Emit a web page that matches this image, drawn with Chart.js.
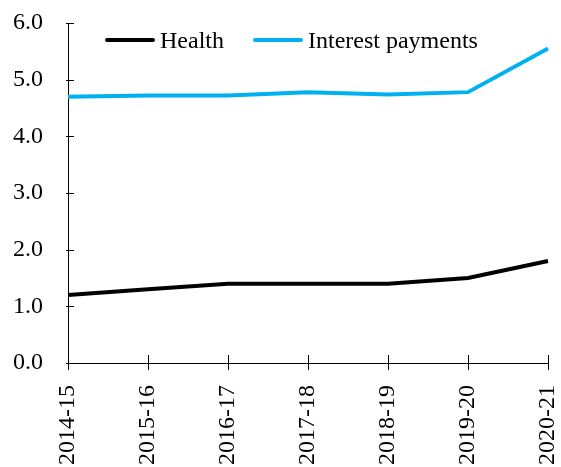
<!DOCTYPE html>
<html lang="en">
<head>
    <meta charset="UTF-8">
    <title>Health vs Interest payments</title>
    <script src="https://cdn.jsdelivr.net/npm/chart.js"></script>
    <style>
        html, body { margin: 0; padding: 0; background: #fff; }
        .wrap { width: 561px; height: 467px; position: relative; }
    </style>
</head>
<body>
    <div class="wrap"><canvas id="lineChart"></canvas></div>
    <script>
        // Dados do gráfico
        const years = ['2014-15', '2015-16', '2016-17', '2017-18', '2018-19', '2019-20', '2020-21'];
        const health = [1.2, 1.3, 1.4, 1.4, 1.4, 1.5, 1.8];
        const interest = [4.7, 4.72, 4.72, 4.78, 4.74, 4.78, 5.55];
        const yTicks = [0, 1, 2, 3, 4, 5, 6];

        const font = { family: '"Liberation Serif", "Times New Roman", serif', size: 24 };

        // marcas de escala que cruzam os eixos
        const crossTicks = {
            id: 'crossTicks',
            beforeDatasetsDraw(chart) {
                const c = chart.ctx;
                const { x, y } = chart.scales;
                const left = chart.chartArea.left, bottom = chart.chartArea.bottom;
                c.save();
                c.strokeStyle = '#000';
                c.lineWidth = 1;
                c.beginPath();
                y.ticks.forEach((t, i) => {
                    const py = Math.round(y.getPixelForTick(i)) + 0.5;
                    c.moveTo(left - 2, py);
                    c.lineTo(left + 6, py);
                });
                x.ticks.forEach((t, i) => {
                    const px = Math.round(x.getPixelForTick(i)) + 0.5;
                    c.moveTo(px, bottom - 8);
                    c.lineTo(px, bottom + 7);
                });
                c.stroke();
                c.restore();
            }
        };

        // legenda desenhada dentro da área do gráfico, em linha
        const insideLegend = {
            id: 'insideLegend',
            afterDraw(chart) {
                const c = chart.ctx;
                const area = chart.chartArea;
                c.save();
                c.font = font.size + 'px ' + font.family;
                c.textBaseline = 'middle';
                const lineW = 50, gap = 5, itemGap = 29;
                let x = area.left + 37;
                const y = area.top + 17;
                chart.data.datasets.forEach(d => {
                    c.strokeStyle = d.borderColor;
                    c.lineWidth = 4;
                    c.lineCap = 'round';
                    c.beginPath();
                    c.moveTo(x + 2, y);
                    c.lineTo(x + lineW - 2, y);
                    c.stroke();
                    c.fillStyle = '#000';
                    c.fillText(d.label, x + lineW + gap, y + 2);
                    x += lineW + gap + c.measureText(d.label).width + itemGap;
                });
                c.restore();
            }
        };

        const ctx = document.getElementById('lineChart').getContext('2d');
        new Chart(ctx, {
            type: 'line',
            data: {
                labels: years,
                datasets: [{
                    label: 'Health',
                    data: health,
                    borderColor: '#000000',
                    backgroundColor: '#000000',
                    borderWidth: 4,
                    pointRadius: 0,
                    tension: 0
                }, {
                    label: 'Interest payments',
                    data: interest,
                    borderColor: '#00B0F0',
                    backgroundColor: '#00B0F0',
                    borderWidth: 4,
                    pointRadius: 0,
                    tension: 0
                }]
            },
            options: {
                responsive: true,
                maintainAspectRatio: false,
                animation: false,
                layout: { padding: { top: 23, right: 13, left: 0, bottom: 0 } },
                plugins: {
                    legend: { display: false },
                    tooltip: { enabled: false }
                },
                scales: {
                    y: {
                        min: 0,
                        max: 6,
                        afterBuildTicks: (axis) => { axis.ticks = yTicks.map(v => ({ value: v })); },
                        afterFit: (s) => { s.width = 68; s.paddingTop = 0; s.paddingBottom = 0; },
                        ticks: {
                            color: '#000',
                            font: font,
                            padding: 17,
                            callback: (v) => Number(v).toFixed(1)
                        },
                        border: { display: true, color: '#000', width: 1 },
                        grid: { display: false }
                    },
                    x: {
                        offset: false,
                        afterFit: (s) => { s.height = 104; s.paddingLeft = 0; s.paddingRight = 0; },
                        ticks: {
                            color: '#000',
                            font: font,
                            maxRotation: 90,
                            minRotation: 90,
                            padding: 14
                        },
                        border: { display: true, color: '#000', width: 1 },
                        grid: { display: false }
                    }
                }
            },
            plugins: [crossTicks, insideLegend]
        });
    </script>
</body>
</html>
